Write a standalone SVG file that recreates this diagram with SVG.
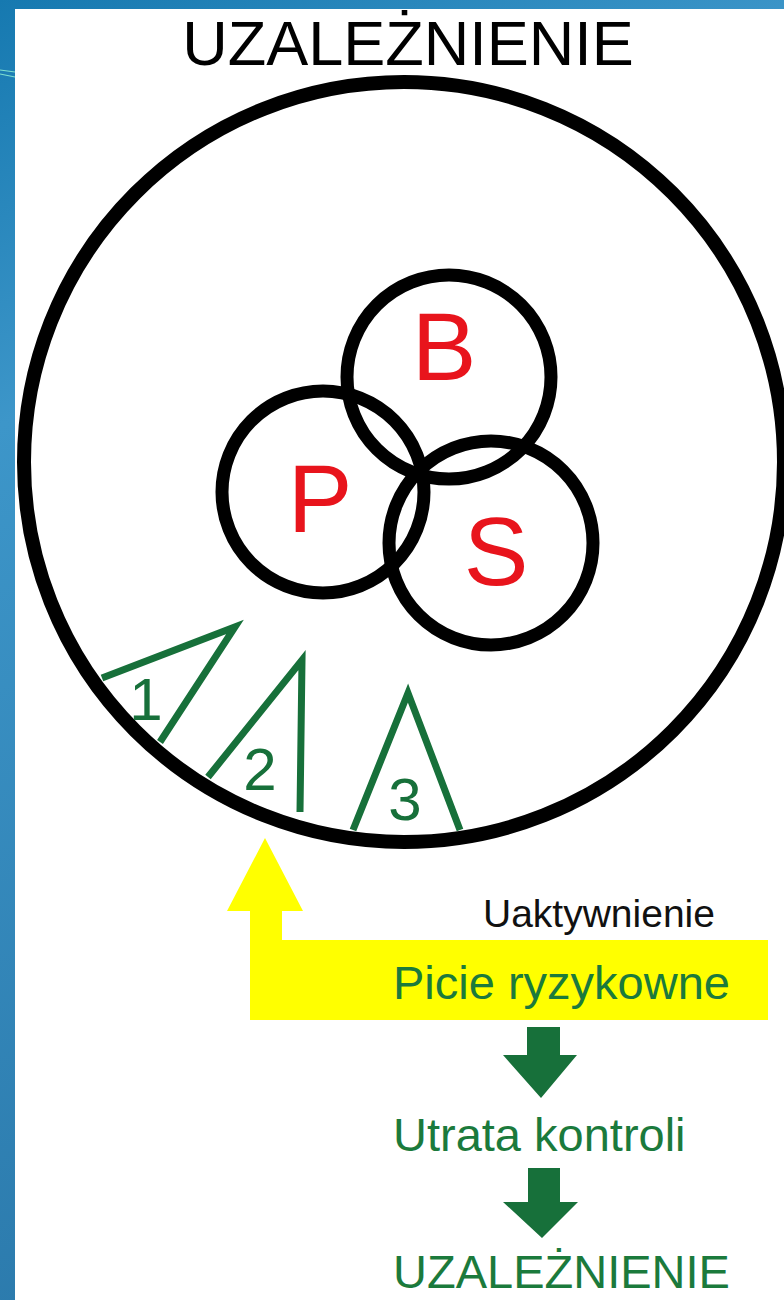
<svg xmlns="http://www.w3.org/2000/svg" width="784" height="1300" viewBox="0 0 784 1300">
<defs>
<linearGradient id="bg" x1="0" y1="0" x2="0.3" y2="1">
<stop offset="0" stop-color="#1679b0"/>
<stop offset="0.3" stop-color="#3d96c9"/>
<stop offset="1" stop-color="#2a78aa"/>
</linearGradient>
<style>
.ring{fill:none;stroke:#000;stroke-width:13}
.big{fill:none;stroke:#000;stroke-width:14}
.tri{fill:none;stroke:#17703a;stroke-width:7;stroke-linejoin:miter;stroke-linecap:butt}
.red{font-family:"Liberation Sans",Arial,sans-serif;font-size:97px;fill:#e8141c;text-anchor:middle}
.num{font-family:"Liberation Sans",Arial,sans-serif;font-size:60px;fill:#17703a;text-anchor:middle}
.g{font-family:"Liberation Sans",Arial,sans-serif;font-size:47px;fill:#1b7a3c}
.arr{fill:#17703a}
</style>
</defs>
<rect x="0" y="0" width="784" height="1300" fill="url(#bg)"/>
<path d="M0 70 L15 72 M0 74 L15 77" stroke="#7fe0d0" stroke-width="1.2" fill="none"/>
<rect x="15" y="9" width="769" height="1291" fill="#fff"/>

<g id="title">
<text x="408" y="65" font-family="Liberation Sans,Arial,sans-serif" font-size="63" fill="#000" text-anchor="middle">UZALEŻNIENIE</text>
</g>

<g id="outer-circle">
<circle class="big" cx="404" cy="462" r="380"/>
</g>

<g id="circle-B">
<circle class="ring" cx="449" cy="377" r="102"/>
<text class="red" x="444" y="380">B</text>
</g>
<g id="circle-P">
<circle class="ring" cx="323" cy="492" r="101"/>
<text class="red" x="320" y="532">P</text>
</g>
<g id="circle-S">
<circle class="ring" cx="491" cy="543" r="102"/>
<text class="red" x="496" y="585">S</text>
</g>

<g id="triangle-1">
<polyline class="tri" points="102,678 235,627 160,742"/>
<text class="num" x="146" y="720">1</text>
</g>
<g id="triangle-2">
<polyline class="tri" points="208,777 302,660 300,812"/>
<text class="num" x="260" y="790">2</text>
</g>
<g id="triangle-3">
<polyline class="tri" points="353,830 408,693 460,830"/>
<text class="num" x="405" y="820">3</text>
</g>

<g id="connectors">
<path d="M265 838 L303 911 L282 911 L282 940 L768 940 L768 1020 L250 1020 L250 911 L227 911 Z" fill="#ffff00"/>
<path class="arr" d="M527 1027 L560 1027 L560 1055 L577 1055 L541 1098 L503 1055 L527 1055 Z"/>
<path class="arr" d="M528 1168 L560 1168 L560 1202 L578 1202 L542 1238 L503 1202 L528 1202 Z"/>
</g>

<g id="label-uaktywnienie">
<text x="483" y="927" font-family="Liberation Sans,Arial,sans-serif" font-size="39" fill="#111">Uaktywnienie</text>
</g>
<g id="node-picie">
<text class="g" x="393" y="999">Picie ryzykowne</text>
</g>
<g id="node-utrata">
<text class="g" x="393" y="1151">Utrata kontroli</text>
</g>
<g id="node-uzaleznienie">
<text class="g" x="393" y="1288">UZALEŻNIENIE</text>
</g>
</svg>
